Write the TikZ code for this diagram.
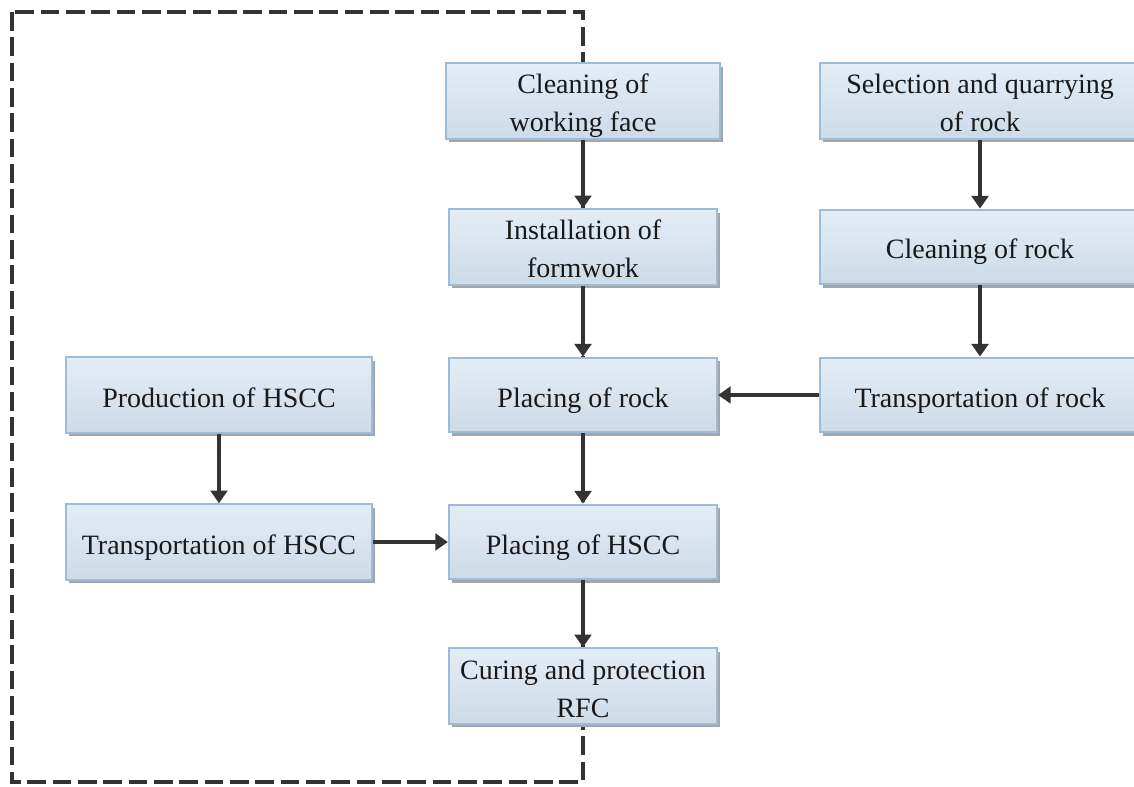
\documentclass[tikz,border=0pt]{standalone}
\usepackage{fontspec}
\setmainfont{Liberation Serif}
\usetikzlibrary{arrows.meta,shadows,backgrounds}
\definecolor{boxtop}{HTML}{E3EDF6}
\definecolor{boxbot}{HTML}{CCDBE9}
\definecolor{boxline}{HTML}{9DBCDA}
\definecolor{shadowgray}{HTML}{A5A5A5}
\definecolor{linecol}{HTML}{333333}
\begin{document}
\begin{tikzpicture}[x=0.75pt,y=-0.75pt,
  procbox/.style={draw=boxline, line width=1.6pt, top color=boxtop, bottom color=boxbot,
    align=center, font=\fontsize{21}{28.5}\selectfont, inner sep=0pt, text=black!90,
    text height=23pt, text depth=5pt,
    drop shadow={shadow xshift=2.5pt, shadow yshift=-2.5pt, fill=shadowgray, opacity=1}},
  twoline/.style={text height=51.5pt},
  midbox/.style={procbox, minimum width=201pt, minimum height=56pt},
  rightbox/.style={procbox, minimum width=240pt, minimum height=56pt},
  leftbox/.style={procbox, minimum width=229.5pt, minimum height=56.5pt},
  flow/.style={draw=linecol, line width=2.8pt, -{Triangle[width=12.5pt,length=9.5pt]}}]
\useasboundingbox (0,0) rectangle (1134,787);
\node[procbox, twoline, minimum width=205.5pt, minimum height=56.25pt] (cwf) at (583,101) {Cleaning of\\working face};
\node[midbox, twoline] (inst) at (583,247) {Installation of\\formwork};
\node[midbox] (por) at (583,395) {Placing of rock};
\node[midbox] (phscc) at (583,542) {Placing of HSCC};
\node[midbox, twoline] (cur) at (583,686) {Curing and protection\\RFC};
\node[rightbox, twoline] (sel) at (980,101) {Selection and quarrying\\of rock};
\node[rightbox] (cor) at (980,247) {Cleaning of rock};
\node[rightbox] (tor) at (980,395) {Transportation of rock};
\node[leftbox] (prod) at (219,395) {Production of HSCC};
\node[leftbox] (thscc) at (219,542) {Transportation of HSCC};
\draw[flow] (cwf) -- (inst);
\draw[flow] (inst) -- (por);
\draw[flow] (por) -- (phscc);
\draw[flow] (phscc) -- (cur);
\draw[flow] (sel) -- (cor);
\draw[flow] (cor) -- (tor);
\draw[flow] (tor) -- (por);
\draw[flow] (prod) -- (thscc);
\draw[flow] (thscc) -- (phscc);
\begin{scope}[on background layer]
\draw[linecol, line width=3pt, dash pattern=on 14pt off 5pt] (12,12) rectangle (583,782);
\end{scope}
\end{tikzpicture}
\end{document}
